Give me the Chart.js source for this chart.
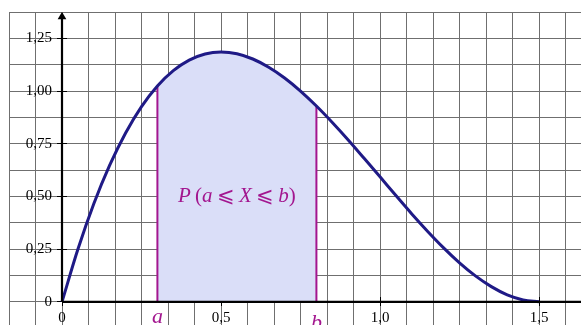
<!DOCTYPE html>
<html><head><meta charset="utf-8">
<script src="https://cdn.jsdelivr.net/npm/chart.js@4/dist/chart.umd.min.js"></script>
<style>html,body{margin:0;padding:0;background:#fff}canvas{display:block}</style>
</head><body>
<canvas id="c" width="581" height="325"></canvas>
<script>
// ---- data ----
const curveX = [0,0.05,0.1,0.15,0.2,0.25,0.3,0.35,0.4,0.45,0.5,0.55,0.6,0.65,0.7,0.75,0.8,0.85,0.9,0.95,1.0,1.05,1.1,1.15,1.2,1.25,1.3,1.35,1.4,1.45,1.5];
const curveY = [0,0.249,0.465,0.648,0.801,0.926,1.024,1.097,1.147,1.176,1.185,1.177,1.152,1.113,1.062,1.000,0.929,0.851,0.768,0.681,0.593,0.504,0.417,0.334,0.256,0.185,0.123,0.072,0.033,0.009,0];
const boundA = 0.3, boundB = 0.8;
const xTickValues = [0, 0.5, 1, 1.5];
const xTickLabels = ['0', '0,5', '1,0', '1,5'];
const yTickValues = [0, 0.25, 0.5, 0.75, 1, 1.25];
const yTickLabels = ['0', '0,25', '0,50', '0,75', '1,00', '1,25'];
const boundTickLabels = ['a', 'b'];
const areaLabelParts = [['P', true], ['\u2009(', false], ['a', true], ['\u2009\u2A7D\u2009', false], ['X', true], ['\u2009\u2A7D\u2009', false], ['b', true], [')', false]];

// ---- layout / style ----
const XMIN = -1/6, XMAX = 1.632, YMIN = -0.11, YMAX = 1.375;
const gridX = []; for (let i = -2; i <= 19; i++) gridX.push(i / 12);
const gridY = []; for (let i = 0; i <= 11; i++) gridY.push(i * 0.125);
const CURVE = '#1f1a86', SHADE = '#dadef8', MAGENTA = '#a3168f', GRID = '#6f6f6f';
const SERIF = '"Liberation Serif","DejaVu Serif",serif';

const curvePts = curveX.map((x, i) => ({x, y: curveY[i]}));
const shadePts = curvePts.filter(p => p.x >= boundA - 1e-9 && p.x <= boundB + 1e-9);
const yAt = v => curveY[curveX.findIndex(x => Math.abs(x - v) < 1e-9)];
const noPad = s => { s.paddingTop = 0; s.paddingBottom = 0; s.paddingLeft = 0; s.paddingRight = 0; };
const setTicks = vals => s => { s.ticks = vals.map(v => ({value: v})); };
const noTicks = {drawOnChartArea: false, drawTicks: false};

const areaLabelPlugin = {
  id: 'areaLabel',
  afterDatasetsDraw(chart) {
    const {ctx, scales: {x, y}} = chart;
    const fontFor = it => (it ? 'italic ' : '') + '21px ' + SERIF;
    ctx.save();
    let total = 0;
    areaLabelParts.forEach(([t, it]) => { ctx.font = fontFor(it); total += ctx.measureText(t).width; });
    let px = x.getPixelForValue((boundA + boundB) / 2) - total / 2;
    const py = y.getPixelForValue(0.474);
    ctx.fillStyle = MAGENTA; ctx.textBaseline = 'alphabetic'; ctx.textAlign = 'left';
    areaLabelParts.forEach(([t, it]) => { ctx.font = fontFor(it); ctx.fillText(t, px, py); px += ctx.measureText(t).width; });
    ctx.restore();
  }
};

const labelAxis = (axis, pos, vals, labels, font, color, padding) => ({
  axis, type: 'linear', min: axis === 'x' ? XMIN : YMIN, max: axis === 'x' ? XMAX : YMAX, position: pos,
  border: {display: false}, grid: noTicks,
  ticks: {font, color, padding, maxRotation: 0, autoSkip: false, callback: v => labels[vals.indexOf(v)]},
  afterBuildTicks: setTicks(vals), afterFit: noPad
});
const tickAxis = (axis, pos, vals, len) => ({
  axis, type: 'linear', min: axis === 'x' ? XMIN : YMIN, max: axis === 'x' ? XMAX : YMAX, position: pos,
  border: {display: false},
  grid: {drawOnChartArea: false, drawTicks: true, tickLength: len, color: '#000', lineWidth: 1},
  ticks: {display: false}, afterBuildTicks: setTicks(vals), afterFit: noPad
});

new Chart(document.getElementById('c'), {
  type: 'line',
  data: {
    datasets: [
      { // x axis line
        data: [{x: 0, y: 0}, {x: 1.8, y: 0}], borderColor: '#000', borderWidth: 2.2,
        pointRadius: 0, order: 1, xAxisID: 'x', yAxisID: 'y'
      },
      { // y axis line with arrow
        data: [{x: 0, y: 0}, {x: 0, y: 1.352}], borderColor: '#000', borderWidth: 2.2,
        pointRadius: [0, 5], pointStyle: 'triangle', pointBackgroundColor: '#000', pointBorderWidth: 0,
        order: 1, xAxisID: 'x', yAxisID: 'y'
      },
      { // density curve
        data: curvePts, borderColor: CURVE, borderWidth: 3, pointRadius: 0,
        cubicInterpolationMode: 'monotone', order: 2, xAxisID: 'x', yAxisID: 'y'
      },
      { // bound a
        data: [{x: boundA, y: 0}, {x: boundA, y: yAt(boundA)}], borderColor: MAGENTA, borderWidth: 2,
        pointRadius: 0, order: 3, xAxisID: 'x', yAxisID: 'y'
      },
      { // bound b
        data: [{x: boundB, y: 0}, {x: boundB, y: yAt(boundB)}], borderColor: MAGENTA, borderWidth: 2,
        pointRadius: 0, order: 3, xAxisID: 'x', yAxisID: 'y'
      },
      { // shaded probability area
        data: shadePts, borderWidth: 0, borderColor: 'rgba(0,0,0,0)', backgroundColor: SHADE, fill: 'origin',
        pointRadius: 0, cubicInterpolationMode: 'monotone', order: 5, xAxisID: 'x', yAxisID: 'y'
      }
    ]
  },
  options: {
    responsive: false, devicePixelRatio: 1, animation: false,
    layout: {autoPadding: false, padding: {left: 9, top: 12, right: 0, bottom: 0}},
    plugins: {legend: {display: false}, tooltip: {enabled: false}},
    scales: {
      x: {
        type: 'linear', min: XMIN, max: XMAX, position: {y: 0},
        border: {display: false}, grid: {color: GRID, lineWidth: 1, drawTicks: false},
        ticks: {display: false}, afterBuildTicks: setTicks(gridX), afterFit: noPad
      },
      y: {
        type: 'linear', min: YMIN, max: YMAX, position: {x: 0},
        border: {display: false}, grid: {color: GRID, lineWidth: 1, drawTicks: false},
        ticks: {display: false}, afterBuildTicks: setTicks(gridY), afterFit: noPad
      },
      xt: tickAxis('x', {y: 0.0237}, xTickValues, 9),
      yt: tickAxis('y', {x: 0.0157}, yTickValues, 10),
      xl: labelAxis('x', {y: 0}, xTickValues, xTickLabels, {family: SERIF, size: 15}, '#000', 7),
      yl: labelAxis('y', {x: -0.0315}, yTickValues, yTickLabels, {family: SERIF, size: 15}, '#000', 0),
      xa: labelAxis('x', {y: 0}, [boundA], [boundTickLabels[0]], {family: SERIF, size: 22, style: 'italic'}, MAGENTA, 2),
      xb: labelAxis('x', {y: 0}, [boundB], [boundTickLabels[1]], {family: SERIF, size: 22, style: 'italic'}, MAGENTA, 8)
    }
  },
  plugins: [areaLabelPlugin]
});
</script>
</body></html>
